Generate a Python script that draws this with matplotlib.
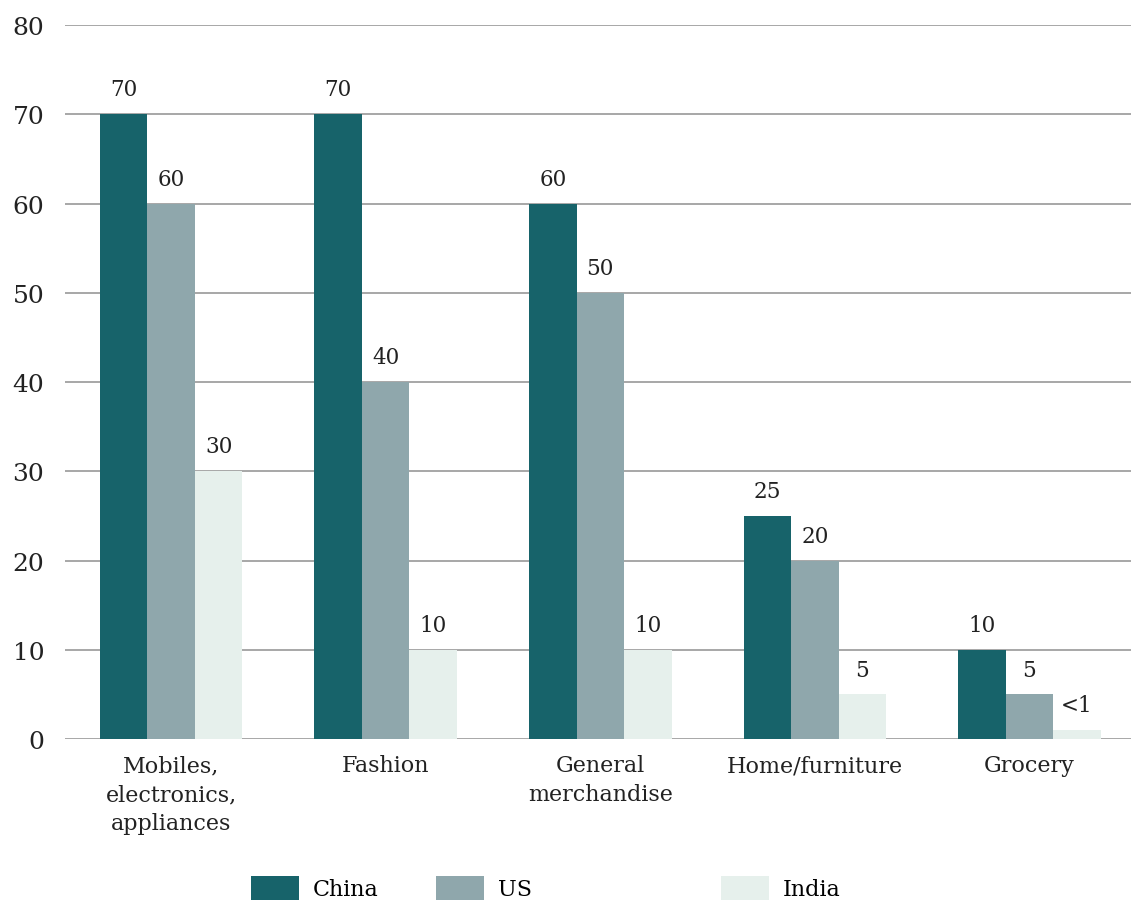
import matplotlib
matplotlib.use("Agg")
import matplotlib.pyplot as plt
import numpy as np

categories = ["Mobiles,\nelectronics,\nappliances", "Fashion", "General\nmerchandise", "Home/furniture", "Grocery"]
series_names = ["China", "US", "India"]
china = [70, 70, 60, 25, 10]
us = [60, 40, 50, 20, 5]
india = [30, 10, 10, 5, 1]
india_labels = ["30", "10", "10", "5", "<1"]
yticks = [0, 10, 20, 30, 40, 50, 60, 70, 80]

colors = ["#17636A", "#8FA7AC", "#E6F0EC"]

plt.rcParams['font.family'] = ['DejaVu Serif']

fig = plt.figure(figsize=(11.31, 9.04), dpi=100)
ax = fig.add_axes([0.0575, 0.1814, 0.9425, 0.7898])

x = np.arange(len(categories))
w = 0.2214
series = [china, us, india]
labels = [[str(v) for v in china], [str(v) for v in us], india_labels]
bars = []
for i, (vals, c, lab) in enumerate(zip(series, colors, labels)):
    b = ax.bar(x + (i - 1) * w, vals, width=w, color=c, zorder=3, label=series_names[i])
    bars.append(b)
    for rect, t in zip(b, lab):
        ax.annotate(t, (rect.get_x() + rect.get_width() / 2, rect.get_height()),
                    xytext=(0, 10), textcoords="offset points", ha="center", va="bottom",
                    fontsize=15.5, color="#222222")

ax.set_xlim(-0.494, 4.473)
ax.set_ylim(0, 80)
ax.set_yticks(yticks)
ax.set_yticklabels([str(v) for v in yticks], fontsize=18, color="#222222")
ax.yaxis.grid(True, color="#a0a0a0", linewidth=1.3, zorder=0)
ax.set_axisbelow(True)
ax.set_xticks(x)
ax.set_xticklabels(categories, fontsize=16, color="#222222", linespacing=1.4)
ax.tick_params(axis="both", length=0)
ax.tick_params(axis="y", pad=15)
ax.tick_params(axis="x", pad=11)
for s in ax.spines.values():
    s.set_visible(False)

legend_x = [251 / 1131, 436 / 1131, 721 / 1131]
for i in range(3):
    leg = fig.legend(handles=[bars[i]], labels=[series_names[i]], loc="center left",
                     bbox_to_anchor=(legend_x[i], (904 - 889) / 904), frameon=False,
                     fontsize=16, handlelength=2.15, handleheight=1.27, handletextpad=0.65,
                     borderpad=0, borderaxespad=0)

fig.savefig("out.png", dpi=100)
